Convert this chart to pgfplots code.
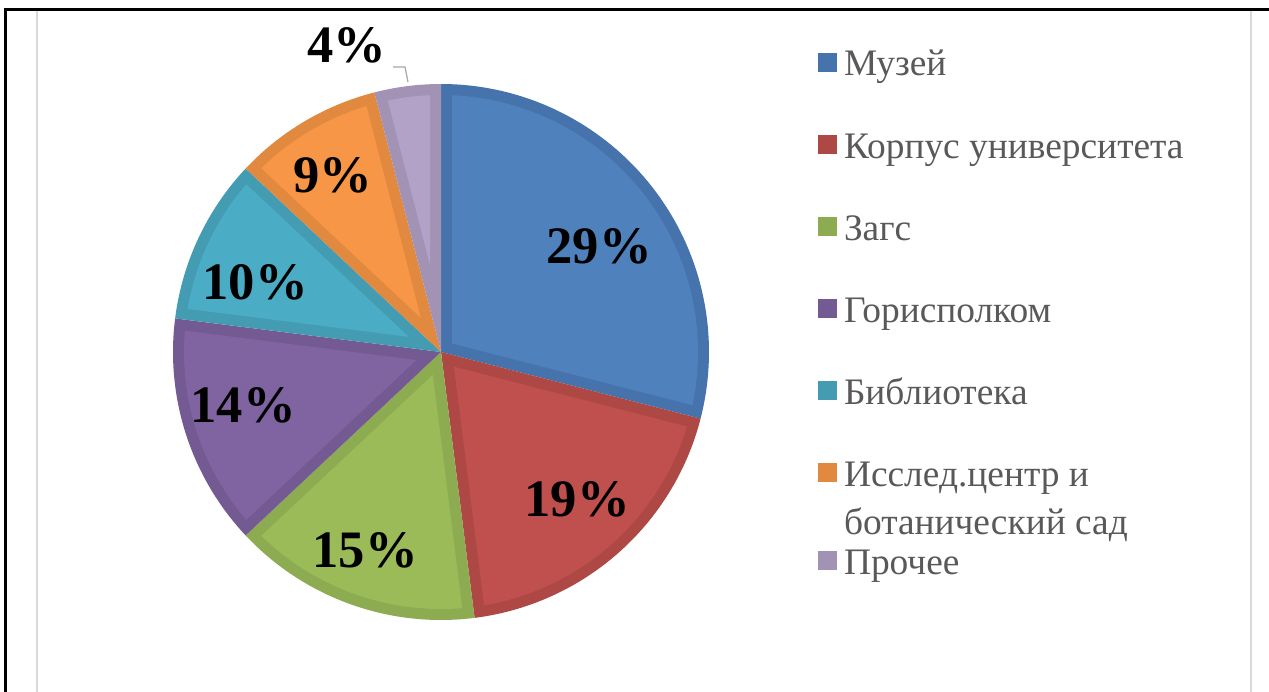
\documentclass[border=0pt]{standalone}
\usepackage{pgfplots}
\pgfplotsset{compat=1.18}
\usepackage{fontspec}
\setmainfont{Liberation Serif}
\definecolor{blueF}{HTML}{4F81BD}\definecolor{blueD}{HTML}{4673AB}
\definecolor{redF}{HTML}{C0504D}\definecolor{redD}{HTML}{AD4845}
\definecolor{greenF}{HTML}{9BBB59}\definecolor{greenD}{HTML}{8DAB51}
\definecolor{purpleF}{HTML}{8064A2}\definecolor{purpleD}{HTML}{735A92}
\definecolor{tealF}{HTML}{4BACC6}\definecolor{tealD}{HTML}{449CB3}
\definecolor{orangeF}{HTML}{F79646}\definecolor{orangeD}{HTML}{E0893F}
\definecolor{lavF}{HTML}{B3A2C7}\definecolor{lavD}{HTML}{A293B4}
\definecolor{legtext}{HTML}{595959}
\definecolor{chartgray}{HTML}{D9D9D9}
\newcommand\cx{441}\newcommand\cy{339}\newcommand\R{268}\newcommand\T{11}
% #1 cumulative share before the slice (%), #2 share (%), #3 fill, #4 rim
\newcommand\pieslice[4]{%
 \pgfmathsetmacro\sa{90-3.6*(#1+#2)}%
 \pgfmathsetmacro\sb{90-3.6*(#1)}%
 \pgfmathsetmacro\dl{asin(\T/(\R-\T))}%
 \pgfmathsetmacro\ia{\sa+\dl}\pgfmathsetmacro\ib{\sb-\dl}%
 \pgfmathsetmacro\dd{\T/sin(1.8*#2)}%
 \pgfmathsetmacro\vx{\cx+\dd*cos(\sb-1.8*#2)}%
 \pgfmathsetmacro\vy{\cy+\dd*sin(\sb-1.8*#2)}%
 \pgfmathsetmacro\Ri{\R-\T}%
 \edef\temp{\noexpand\addplot[fill=#4, draw=none, domain=\sa:\sb, samples=90,
   legend image code/.code={\noexpand\path[fill=#4] (0pt,2pt) rectangle (9.5pt,11.5pt);}]
   ({\cx+\R*cos(x)},{\cy+\R*sin(x)}) -- (\cx,\cy) -- cycle;
  \noexpand\addplot[forget plot, fill=#3, draw=none, domain=\ia:\ib, samples=90]
   ({\cx+\Ri*cos(x)},{\cy+\Ri*sin(x)}) -- (\vx,\vy) -- cycle;}%
 \temp}
\newcommand\lst[2]{\rule[-#2]{0pt}{\dimexpr#1+#2\relax}}
\begin{document}
\begin{tikzpicture}
\begin{axis}[scale only axis, width=634.5pt, height=345.5pt,
  xmin=0, xmax=1269, ymin=0, ymax=691, hide axis, clip=false,
  legend style={at={(axis cs:818,656)}, anchor=north west, draw=none, fill=none,
    inner sep=0pt, outer sep=0pt, row sep=0pt, column sep=3.5pt,
    font=\fontsize{18.7}{21}\selectfont, text=legtext,
    cells={anchor=base west},
    nodes={inner sep=0pt, outer sep=0pt, text depth=, text height=}}]
% frame
\addplot[forget plot, black, line width=1.5pt] coordinates {(4,681) (1275,681)};
\addplot[forget plot, black, line width=1.5pt] coordinates {(5,682) (5,-5)};
\addplot[forget plot, chartgray, line width=1pt] coordinates {(37,680) (37,-5)};
\addplot[forget plot, chartgray, line width=1pt] coordinates {(1251,680) (1251,-5)};
% slices
\pieslice{0}{29}{blueF}{blueD}
\addlegendentry{\lst{20.5pt}{20.5pt}Музей}
\pieslice{29}{19}{redF}{redD}
\addlegendentry{\lst{20.5pt}{20.5pt}Корпус университета}
\pieslice{48}{15}{greenF}{greenD}
\addlegendentry{\lst{20.5pt}{20.5pt}Загс}
\pieslice{63}{14}{purpleF}{purpleD}
\addlegendentry{\lst{20.5pt}{20.5pt}Горисполком}
\pieslice{77}{10}{tealF}{tealD}
\addlegendentry{\lst{20.5pt}{20.5pt}Библиотека}
\pieslice{87}{9}{orangeF}{orangeD}
\addlegendentry{\lst{20.5pt}{10.75pt}Исслед.центр и}
\addlegendimage{empty legend}
\addlegendentry{\lst{10.75pt}{7.75pt}ботанический сад}
\pieslice{96}{4}{lavF}{lavD}
\addlegendentry{\lst{11.75pt}{5pt}Прочее}
% leader line
\addplot[forget plot, color=black!35, line width=0.6pt] coordinates {(393,624) (405,624) (408,609)};
% labels
\begin{scope}[every node/.style={font=\fontsize{26.3}{30}\selectfont\bfseries, text depth=0pt, inner sep=0pt}]
\node at (axis cs:599,445) {29\%};
\node at (axis cs:577,192) {19\%};
\node at (axis cs:365,141) {15\%};
\node at (axis cs:243,286) {14\%};
\node at (axis cs:255,409) {10\%};
\node at (axis cs:333,516) {9\%};
\node at (axis cs:347,646) {4\%};
\end{scope}
\end{axis}
\pgfresetboundingbox
\path (0,0) rectangle (634.5pt,345.5pt);
\end{tikzpicture}
\end{document}
